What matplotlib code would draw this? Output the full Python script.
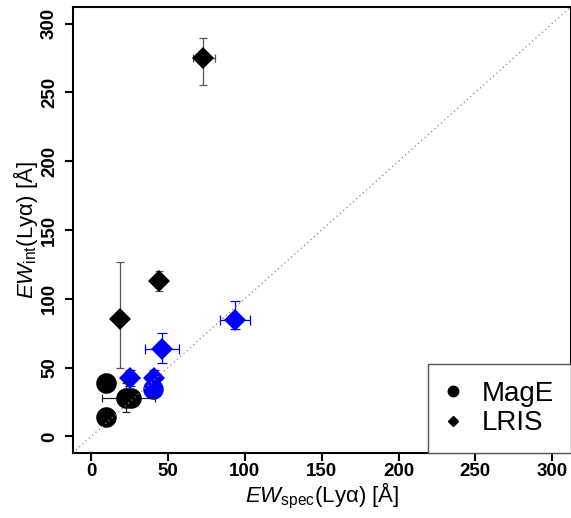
import matplotlib
matplotlib.use("Agg")
import matplotlib.pyplot as plt
from matplotlib.lines import Line2D

plt.rcParams['font.family'] = ['Liberation Sans', 'DejaVu Sans']
plt.rcParams['mathtext.fontset'] = 'custom'
plt.rcParams['mathtext.rm'] = 'Liberation Sans'
plt.rcParams['mathtext.it'] = 'Liberation Sans:italic'

# MagE (circles)
mage_black_x = [9.9, 9.9, 26.0, 23.0]
mage_black_y = [38.8, 14.1, 28.0, 28.0]
mage_black_xerr_lo = [0, 0, 0, 16.0]
mage_black_xerr_hi = [0, 0, 0, 18.3]
mage_black_yerr_lo = [0, 0, 0, 10.5]
mage_black_yerr_hi = [0, 0, 0, 10.5]

mage_blue_x = [40.2]
mage_blue_y = [34.5]

# LRIS (diamonds)
lris_black_x = [19.0, 43.9, 72.8]
lris_black_y = [85.0, 112.7, 275.2]
lris_black_xerr_lo = [0, 0, 6.6]
lris_black_xerr_hi = [0, 0, 7.5]
lris_black_yerr_lo = [35.3, 6.7, 20.2]
lris_black_yerr_hi = [41.5, 7.3, 14.5]

lris_blue_x = [93.8, 46.1, 25.5, 40.7]
lris_blue_y = [84.9, 63.8, 42.5, 42.5]
lris_blue_xerr_lo = [10.2, 11.3, 0, 0]
lris_blue_xerr_hi = [9.7, 10.8, 0, 0]
lris_blue_yerr_lo = [6.8, 10.4, 6.0, 6.0]
lris_blue_yerr_hi = [13.8, 11.4, 6.0, 6.0]

ticks = [0, 50, 100, 150, 200, 250, 300]
legend_labels = ["MagE", "LRIS"]

fig = plt.figure(figsize=(5.71, 5.18), dpi=100)
ax = fig.add_axes([0.1273, 0.1255, 0.8722, 0.861])
ax.set_xlim(-12, 312)
ax.set_ylim(-12, 312)

def eb(x, y, xlo, xhi, ylo, yhi, color, ecolor, marker, ms, z, capsize):
    ax.errorbar(x, y, xerr=[xlo, xhi], yerr=[ylo, yhi], fmt='none',
                ecolor=ecolor, elinewidth=0.9, capsize=capsize, capthick=0.9, zorder=z)
    ax.plot(x, y, linestyle='none', marker=marker, color=color,
            markersize=ms, markeredgewidth=0, zorder=z + 0.5)

# LRIS
eb(lris_black_x, lris_black_y, lris_black_xerr_lo, lris_black_xerr_hi,
   lris_black_yerr_lo, lris_black_yerr_hi, 'black', '#555555', 'D', 11.2, 2, 3.2)
eb(lris_blue_x, lris_blue_y, lris_blue_xerr_lo, lris_blue_xerr_hi,
   lris_blue_yerr_lo, lris_blue_yerr_hi, '#0000ff', '#0000ff', 'D', 11.2, 3, 3.8)
# MagE
ax.plot(mage_blue_x, mage_blue_y, linestyle='none', marker='o', color='#0000ff',
        markersize=14.8, markeredgewidth=0, zorder=4)
eb(mage_black_x, mage_black_y, mage_black_xerr_lo, mage_black_xerr_hi,
   mage_black_yerr_lo, mage_black_yerr_hi, 'black', '#222222', 'o', 14.8, 5, 3.2)

# one-to-one line
ax.axline((0, 0), slope=1, color='#888888', linestyle=(0, (1, 2.5)), linewidth=0.9, zorder=10)

ax.set_xticks(ticks)
ax.set_yticks(ticks)
ax.set_xticklabels([str(t) for t in ticks], fontsize=13.5, fontweight='bold')
ax.set_yticklabels([str(t) for t in ticks], fontsize=13.5, fontweight='bold',
                   rotation=90, va='center')
ax.tick_params(axis='both', direction='out', length=6, width=1.5)
ax.tick_params(axis='x', pad=1)
ax.tick_params(axis='y', pad=4.5)
for s in ax.spines.values():
    s.set_linewidth(1.5)

ax.set_xlabel(r'$\mathit{EW}_{\rm spec}$(Lyα) [Å]', fontsize=16, labelpad=1)
ax.set_ylabel(r'$\mathit{EW}_{\rm int}$(Lyα) [Å]', fontsize=16, labelpad=1)

handles = [Line2D([], [], linestyle='none', marker='o', color='black', markersize=7.5),
           Line2D([], [], linestyle='none', marker='D', color='black', markersize=5.2)]
leg = ax.legend(handles, legend_labels, loc='lower right', bbox_to_anchor=(1, 0),
                borderaxespad=0, fontsize=20, frameon=True, fancybox=False,
                borderpad=0.6, handlelength=0.6, handletextpad=0.75, labelspacing=0.12)
leg.get_frame().set_edgecolor('#555555')
leg.get_frame().set_linewidth(1.0)
leg.get_frame().set_alpha(None)
leg.get_frame().set_facecolor('white')
leg.set_zorder(20)

fig.savefig('out.png', dpi=100)
